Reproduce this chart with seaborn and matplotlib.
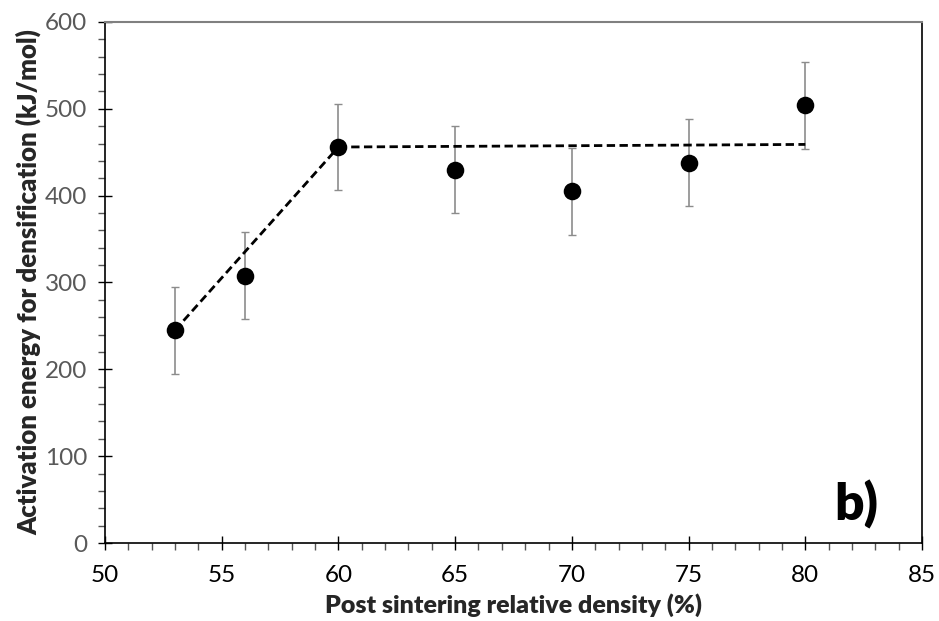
import matplotlib
matplotlib.use("Agg")
import matplotlib.pyplot as plt
import seaborn as sns
import pandas as pd
from matplotlib.ticker import MultipleLocator

# Measured activation energies vs. post-sintering relative density
density = [53, 56, 60, 65, 70, 75, 80]
energy = [245, 308, 456, 430, 405, 438, 504]
energy_err = [50, 50, 50, 50, 50, 50, 50]

# Trend segments (two linear regimes)
trend1_x = [53, 60]
trend1_y = [245, 456]
trend2_x = [60, 80]
trend2_y = [456, 459]

sns.set_theme(style="white")
plt.rcParams["font.family"] = ["Lato", "DejaVu Sans"]

fig = plt.figure(figsize=(9.39, 6.21), dpi=100)
ax = fig.add_axes([0.1118, 0.1256, 0.8701, 0.839])

df = pd.DataFrame({"density": density, "energy": energy, "err": energy_err})

ax.errorbar(df["density"], df["energy"], yerr=df["err"], fmt="none",
            ecolor="#8c8c8c", elinewidth=1.2, capsize=3, capthick=1.0, zorder=2)

sns.lineplot(x=trend1_x, y=trend1_y, ax=ax, color="black", lw=2.0,
             linestyle=(0, (3, 1.6)), zorder=3)
sns.lineplot(x=trend2_x, y=trend2_y, ax=ax, color="black", lw=2.0,
             linestyle=(0, (3, 1.6)), zorder=3)

sns.scatterplot(data=df, x="density", y="energy", ax=ax, s=160,
                color="black", edgecolor="black", linewidth=0, zorder=4)

ax.set_xlim(50, 85)
ax.set_ylim(0, 600)
ax.xaxis.set_major_locator(MultipleLocator(5))
ax.xaxis.set_minor_locator(MultipleLocator(1))
ax.yaxis.set_major_locator(MultipleLocator(100))
ax.yaxis.set_minor_locator(MultipleLocator(20))

ax.tick_params(axis="both", which="both", bottom=True, left=True,
               top=False, right=False)
ax.tick_params(axis="both", which="major", direction="inout", length=10,
               width=1.0, color="black", labelsize=17.5)
ax.tick_params(axis="both", which="minor", direction="out", length=5,
               width=1.0, color="#555555")
ax.tick_params(axis="y", labelcolor="#595959", pad=8)
ax.tick_params(axis="x", labelcolor="black", pad=11)

for side in ["left", "bottom", "right"]:
    ax.spines[side].set_color("black")
    ax.spines[side].set_linewidth(1.2)
ax.spines["top"].set_color("#808080")
ax.spines["top"].set_linewidth(1.5)

ax.set_xlabel("Post sintering relative density (%)", fontsize=18,
              fontweight="heavy", labelpad=5)
ax.set_ylabel("Activation energy for densification (kJ/mol)", fontsize=18.5,
              fontweight="heavy", labelpad=2)

ax.text(0.947, 0.075, "b)", transform=ax.transAxes, fontsize=37,
        fontweight="heavy", ha="right", va="center", color="black")

fig.savefig("out.png", dpi=100)
